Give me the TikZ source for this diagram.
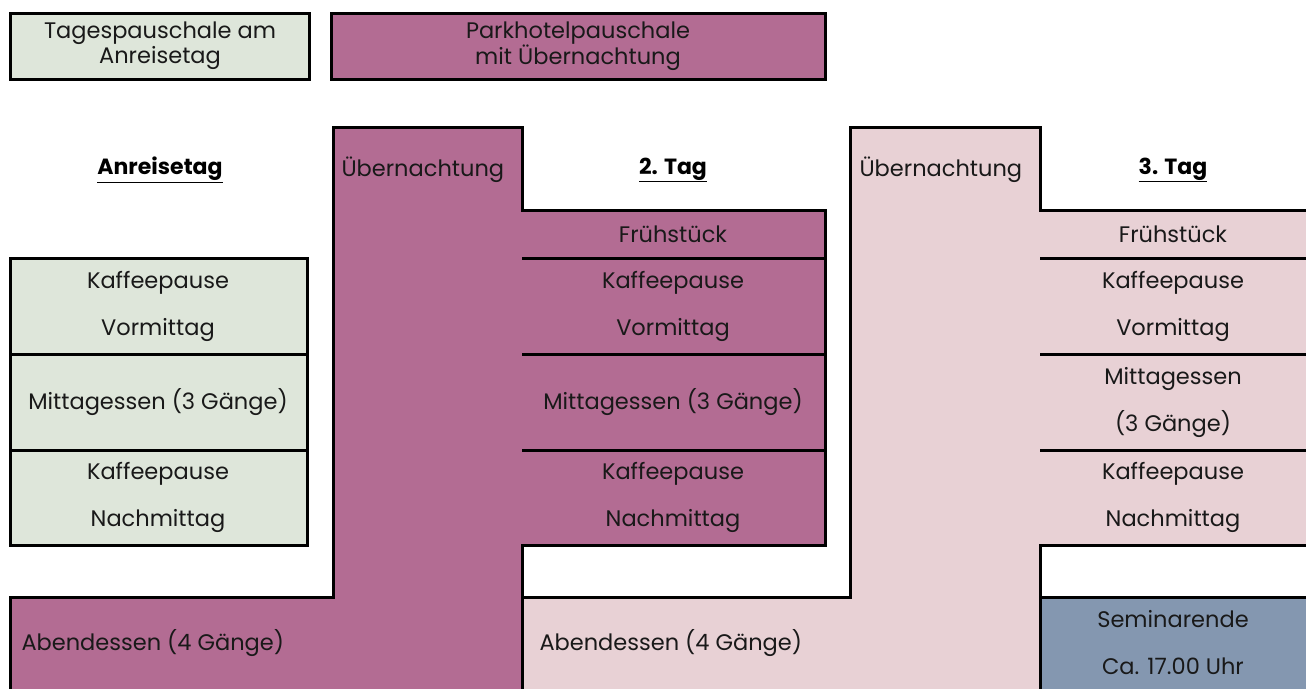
\documentclass[tikz,border=0pt]{standalone}
\usepackage{fontspec}
\setmainfont{Poppins}
\usetikzlibrary{positioning}

\definecolor{tagesgruen}{HTML}{DEE6DA}
\definecolor{parkviolett}{HTML}{B36C93}
\definecolor{nachtrosa}{HTML}{E8D1D5}
\definecolor{endeblau}{HTML}{8497B0}

\begin{document}
\begin{tikzpicture}[x=1pt,y=-1pt,line width=3pt]
 				 \tikzstyle{eintrag}=[font=\fontsize{22.5}{47}\selectfont, align=center, inner sep=0pt, text=black!90]
 				 \tikzstyle{legende}=[font=\fontsize{22.5}{25}\selectfont, align=center, inner sep=0pt, text=black!90]
 				 \tikzstyle{kopf}=[font=\fontsize{22}{25}\selectfont\bfseries, inner sep=0pt]
 				 \useasboundingbox (0,0) rectangle (1306,688);

 					 % Legende
 					 \draw[fill=tagesgruen] (10,13) rectangle (309,79);
 					 \draw[fill=parkviolett] (331,13) rectangle (825,79);
 					 \node[legende] (tages) at (160,46) {Tagespauschale am\\Anreisetag};
 					 \node[legende] (park)  at (578,46) {Parkhotelpauschale\\mit Übernachtung};

 					 % Flaechen
 					 \draw[fill=parkviolett] (333,127) -- (522,127) -- (522,210) -- (825,210) -- (825,545)
 					 		-- (522,545) -- (522,692) -- (10,692) -- (10,597) -- (333,597) -- cycle;
 					 \draw[fill=nachtrosa] (850,127) -- (1040,127) -- (1040,210) -- (1310,210) -- (1310,545)
 					 		-- (1040,545) -- (1040,692) -- (522,692) -- (522,597) -- (850,597) -- cycle;
 					 \draw[fill=endeblau] (1040,597) rectangle (1310,692);
 					 \draw[fill=tagesgruen] (10,258) rectangle (307,545);

 					 % Trennlinien
 					 \foreach \y in {354,450} \draw (10,\y) -- (307,\y);
 					 \foreach \y in {258,354,450} {
 					 		\draw (522,\y) -- (825,\y);
 					 		\draw (1040,\y) -- (1310,\y);
 					 }

 					 % Kopfzeile
 					 \node[kopf] (anreise) at (160,170) {\underline{Anreisetag}};
 					 \node[kopf] (tag2)    at (673,170) {\underline{2. Tag}};
 					 \node[kopf] (tag3)    at (1173,170) {\underline{3. Tag}};
 					 \node[eintrag, anchor=west] (nacht1) at (340,170) {Übernachtung};
 					 \node[eintrag, anchor=west] (nacht2) at (858,170) {Übernachtung};

 					 % Anreisetag
 					 \node[eintrag] (kv1) at (158,306) {Kaffeepause\\Vormittag};
 					 \node[eintrag] (me1) at (158,402) {Mittagessen (3 Gänge)};
 					 \node[eintrag] (kn1) at (158,497) {Kaffeepause\\Nachmittag};

 					 % 2. Tag
 					 \node[eintrag] (fr2) at (673,234) {Frühstück};
 					 \node[eintrag] (kv2) at (673,306) {Kaffeepause\\Vormittag};
 					 \node[eintrag] (me2) at (673,402) {Mittagessen (3 Gänge)};
 					 \node[eintrag] (kn2) at (673,497) {Kaffeepause\\Nachmittag};

 					 % 3. Tag
 					 \node[eintrag] (fr3) at (1173,234) {Frühstück};
 					 \node[eintrag] (kv3) at (1173,306) {Kaffeepause\\Vormittag};
 					 \node[eintrag] (me3) at (1173,402) {Mittagessen\\(3 Gänge)};
 					 \node[eintrag] (kn3) at (1173,497) {Kaffeepause\\Nachmittag};

 					 % Abend
 					 \node[eintrag, anchor=west] (ab1) at (20,643) {Abendessen (4 Gänge)};
 					 \node[eintrag, anchor=west] (ab2) at (538,643) {Abendessen (4 Gänge)};
 					 \node[eintrag] (ende) at (1173,643) {Seminarende\\Ca. 17.00 Uhr};
				\end{tikzpicture}
\end{document}
